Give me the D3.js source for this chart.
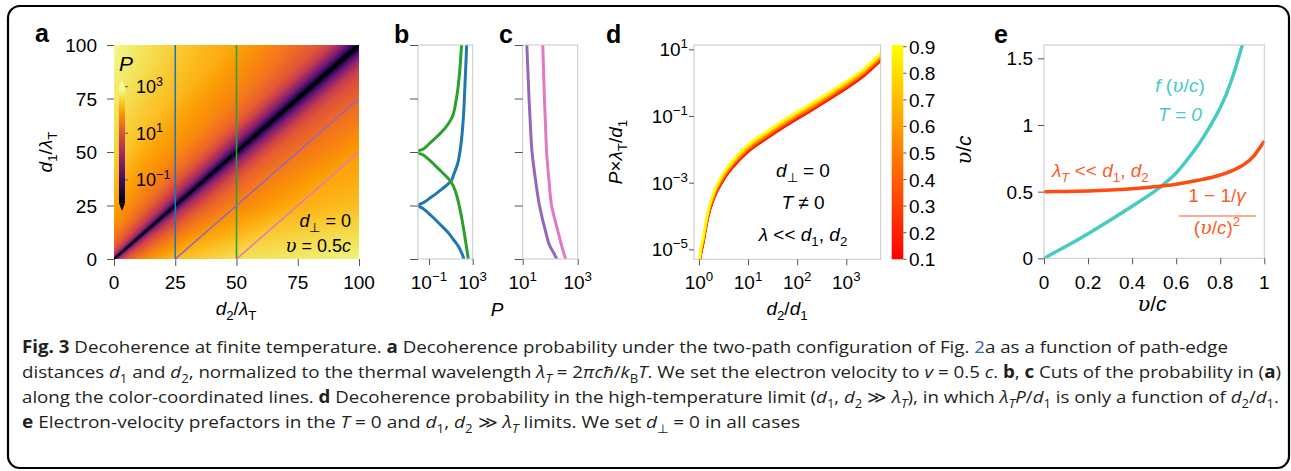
<!DOCTYPE html>
<html>
<head>
<meta charset="utf-8">
<script src="https://cdn.jsdelivr.net/npm/d3@7"></script>
<style>
  body { margin: 0; background: #fff; }
</style>
</head>
<body>
<svg id="chart" width="1291" height="471"></svg>
<script>
// ---------- data ----------
const ticksA = [0, 25, 50, 75, 100];

// heat map a: log10 P on a (s = min(d1,d2), o = |d1-d2|) grid
const heatOffsets = [0, 1, 2.5, 5, 10, 15, 25, 50, 75, 100];
const heatRows = [0, 12.5, 25, 50, 75, 100];
const logPBelow = [            // d1 < d2, row s = d1
  [-3, -0.3, 0.6, 1.1, 1.55, 1.85, 2.25, 2.6, 2.7, 2.78],
  [-3, -0.8, 0.1, 0.7, 1.2, 1.5, 1.9, 2.35, 2.5, 2.6],
  [-3, -1.2, -0.4, 0.3, 0.95, 1.3, 1.65, 2.1, 2.25, 2.35],
  [-3, -1.5, -0.8, -0.1, 0.75, 1.15, 1.45, 1.9, 2.05, 2.15],
  [-3, -1.7, -1.0, -0.3, 0.6, 1.0, 1.3, 1.8, 1.95, 2.05],
  [-3, -1.8, -1.1, -0.4, 0.5, 0.9, 1.2, 1.75, 1.9, 2.0]
];
const logPAbove = [            // d1 > d2, row s = d2
  [-3, -0.3, 0.6, 1.1, 1.5, 1.75, 2.0, 2.45, 2.7, 2.88],
  [-3, -0.8, 0.1, 0.7, 1.2, 1.5, 1.8, 2.3, 2.55, 2.7],
  [-3, -1.2, -0.4, 0.3, 1.0, 1.35, 1.75, 2.2, 2.42, 2.55],
  [-3, -1.5, -0.85, -0.1, 0.8, 1.25, 1.6, 2.0, 2.1, 2.2],
  [-3, -1.7, -1.0, -0.3, 0.6, 1.05, 1.35, 1.85, 1.95, 2.05],
  [-3, -1.8, -1.1, -0.4, 0.5, 0.95, 1.25, 1.75, 1.85, 1.95]
];
const cbTicksA = [3, 1, -1];

// cut lines drawn on a, [d2, d1] end points
const cutLines = [
  { color: "#1f77b4", pts: [[25, 0], [25, 100]] },
  { color: "#2ca02c", pts: [[50, 0], [50, 100]] },
  { color: "#9467bd", pts: [[25, 0], [100, 75]] },
  { color: "#e377c2", pts: [[50, 0], [100, 50]] }
];

// b: [d1, log10 P]
const cutBlue = [[0, 2.2], [3, 1.98], [6, 1.68], [9, 1.25], [12.4, 0.75], [15.5, 0.15], [18.7, -0.48],
  [21, -0.95], [23, -1.4], [24.3, -1.8], [24.8, -2.2], [25, -2.6], [25.2, -2.2], [25.7, -1.8],
  [27, -1.3], [28.5, -0.9], [30.3, -0.4], [32.5, 0.15], [34.4, 0.6], [36.3, 1.0], [40, 1.3],
  [43.8, 1.58], [50, 1.83], [57, 2.0], [65.5, 2.14], [81, 2.29], [100, 2.45]];
const cutGreen = [[0, 2.6], [6, 2.42], [12.2, 2.23], [18.5, 2.02], [24.8, 1.77], [31, 1.46], [36.2, 1.0],
  [39, 0.5], [42, -0.1], [45.3, -0.75], [47.5, -1.25], [49, -1.7], [49.7, -2.2], [50, -2.6],
  [50.3, -2.2], [51, -1.7], [52.5, -1.25], [54.7, -0.8], [58, -0.1], [61, 0.45], [65.6, 1.06],
  [73.4, 1.46], [81, 1.68], [90, 1.85], [100, 1.98]];
// c: [d1, log10 P]
const cutPurple = [[0, 2.24], [3, 2.12], [6, 1.99], [12.5, 1.84], [25, 1.61], [37.5, 1.46], [50, 1.34],
  [62.5, 1.28], [75, 1.23], [87.5, 1.19], [100, 1.15]];
const cutPink = [[0, 2.56], [6, 2.42], [12.5, 2.29], [25, 2.05], [37.5, 1.95], [50, 1.87],
  [62.5, 1.83], [75, 1.79], [87.5, 1.76], [100, 1.73]];

// d: log10(d2/d1) -> log10(P lambda/d1), middle of the band
const dLogX = [0.0, 0.02, 0.09, 0.19, 0.32, 0.50, 0.70, 1.0, 1.38, 1.79, 2.30, 2.84, 3.35, 3.75];
const dLogY = [-5.9, -5.32, -4.72, -3.92, -3.32, -2.82, -2.42, -1.97, -1.57, -1.17, -0.72, -0.22, 0.3, 0.84];
const velocities = [0.1, 0.2, 0.3, 0.4, 0.5, 0.6, 0.7, 0.8, 0.9];
const dShift = [-0.11, -0.08, -0.055, -0.025, 0, 0.025, 0.055, 0.08, 0.11];
const dTicksX = [0, 1, 2, 3];
const dTicksY = [1, -1, -3, -5];

// e
const eV = [0, 0.1, 0.2, 0.3, 0.4, 0.5, 0.55, 0.6, 0.65, 0.7, 0.75, 0.8, 0.85, 0.9, 0.92];
const eF = [0, 0.09, 0.185, 0.285, 0.39, 0.5, 0.565, 0.64, 0.74, 0.85, 0.98, 1.13, 1.33, 1.6, 1.73];
const eRedV = [0, 0.1, 0.2, 0.3, 0.4, 0.5, 0.6, 0.7, 0.8, 0.9, 0.95, 0.98, 1.0];
const eRed = [0.5, 0.501, 0.505, 0.512, 0.522, 0.536, 0.556, 0.585, 0.625, 0.696, 0.762, 0.83, 0.88];
const eTicksX = [0, 0.2, 0.4, 0.6, 0.8, 1];
const eTicksY = [0, 0.5, 1, 1.5];

// ---------- helpers ----------
const svg = d3.select("#chart");
const FONT = "Liberation Sans, Arial, Helvetica, sans-serif";
const SERIF = "DejaVu Serif, Liberation Serif, serif";
const TICK = "#555";
const BOX = "#c8c8c8";
const FS = 19;

function rich(sel, segs, size) {
  let shift = 0;
  segs.forEach(s => {
    const o = typeof s === "string" ? { t: s } : s;
    const target = o.sub ? 0.28 * size : o.sup ? -0.42 * size : 0;
    const ts = sel.append("tspan").text(o.t);
    if (target - shift !== 0) ts.attr("dy", target - shift);
    shift = target;
    if (o.sub || o.sup) ts.attr("font-size", size * 0.7);
    if (o.i) ts.attr("font-style", "italic");
    if (o.b) ts.attr("font-weight", "bold");
    if (o.f) ts.attr("fill", o.f);
    if (o.serif) ts.style("font-family", SERIF);
  });
}

function label(x, y, segs, opt = {}) {
  const size = opt.size || FS;
  const t = svg.append("text").attr("x", x).attr("y", y)
    .attr("font-size", size).style("font-family", opt.family || FONT)
    .attr("text-anchor", opt.anchor || "middle").attr("fill", opt.fill || "#000");
  if (opt.rotate) t.attr("transform", `rotate(${opt.rotate},${x},${y})`);
  rich(t, segs, size);
  return t;
}

const pow = e => [{ t: "10" }, { t: e < 0 ? "\u2212" + (-e) : "" + e, sup: 1 }];
const V = { t: "\u03c5", i: 1, serif: 1 };

function ticks(axis, transform) {
  const g = svg.append("g").attr("transform", transform).call(axis);
  g.select(".domain").remove();
  g.selectAll(".tick line").attr("stroke", TICK);
  g.selectAll(".tick text").remove();
}

function box(x0, y0, x1, y1) {
  svg.append("rect").attr("x", x0).attr("y", y0).attr("width", x1 - x0).attr("height", y1 - y0)
    .attr("fill", "none").attr("stroke", BOX);
}

function clip(id, x0, y0, x1, y1) {
  svg.append("clipPath").attr("id", id).append("rect")
    .attr("x", x0).attr("y", y0).attr("width", x1 - x0).attr("height", y1 - y0);
  return `url(#${id})`;
}

// ---------- frame ----------
svg.append("rect").attr("x", 8).attr("y", 6).attr("width", 1281).attr("height", 462)
  .attr("rx", 12).attr("fill", "#fff").attr("stroke", "#000").attr("stroke-width", 2.2);

// panel letters
[["a", 35, 42], ["b", 394, 43], ["c", 499, 43], ["d", 606, 43], ["e", 994, 43]].forEach(([l, x, y]) =>
  label(x, y, [l], { anchor: "start", size: 25 }).attr("font-weight", "bold"));

// ---------- panel a ----------
const xA = d3.scaleLinear([0, 100], [114, 359]);
const yA = d3.scaleLinear([0, 100], [259, 45]);
const heatColor = d3.scaleSequential(d3.interpolateInferno).domain([-2, 3]).clamp(true);
const rowsBelow = logPBelow.map(r => d3.scaleLinear().domain(heatOffsets).range(r).clamp(true));
const rowsAbove = logPAbove.map(r => d3.scaleLinear().domain(heatOffsets).range(r).clamp(true));
function heatLog(d1, d2) {
  const rows = d1 < d2 ? rowsBelow : rowsAbove;
  const s = Math.min(d1, d2), o = Math.abs(d1 - d2);
  return d3.scaleLinear().domain(heatRows).range(rows.map(f => f(o))).clamp(true)(s);
}
{
  const W = 245, H = 214;
  const cv = document.createElement("canvas");
  cv.width = W; cv.height = H;
  const ctx = cv.getContext("2d");
  const img = ctx.createImageData(W, H);
  for (let py = 0; py < H; py++) {
    for (let px = 0; px < W; px++) {
      const d2 = xA.invert(114 + px + 0.5), d1 = yA.invert(45 + py + 0.5);
      const c = d3.rgb(heatColor(heatLog(d1, d2)));
      const k = 4 * (py * W + px);
      img.data[k] = c.r; img.data[k + 1] = c.g; img.data[k + 2] = c.b; img.data[k + 3] = 255;
    }
  }
  ctx.putImageData(img, 0, 0);
  svg.append("image").attr("x", 114).attr("y", 45).attr("width", W).attr("height", H)
    .attr("preserveAspectRatio", "none").attr("href", cv.toDataURL());
}
const clipA = clip("clipA", 114, 45, 359, 259);
svg.append("g").attr("clip-path", clipA).selectAll("path").data(cutLines).join("path")
  .attr("d", d => d3.line().x(p => xA(p[0])).y(p => yA(p[1]))(d.pts))
  .attr("stroke", d => d.color).attr("stroke-width", 1.6).attr("fill", "none");

ticks(d3.axisLeft(yA).tickValues(ticksA).tickSize(7), "translate(114,0)");
ticks(d3.axisBottom(xA).tickValues(ticksA).tickSize(7), "translate(0,259)");
ticksA.forEach(v => {
  label(97, yA(v) + 7, [String(v)], { anchor: "end" });
  label(xA(v), 289, [String(v)]);
});
label(52, 152, [{ t: "d", i: 1 }, { t: "1", sub: 1 }, "/", { t: "\u03bb", i: 1 }, { t: "T", sub: 1 }], { rotate: -90 });
label(236, 315, [{ t: "d", i: 1 }, { t: "2", sub: 1 }, "/", { t: "\u03bb", i: 1 }, { t: "T", sub: 1 }]);

// colorbar of a
{
  const yCb = d3.scaleLinear([-2, 3], [203.2, 86.7]);
  const grad = svg.append("defs").append("linearGradient").attr("id", "gInf")
    .attr("x1", 0).attr("y1", 1).attr("x2", 0).attr("y2", 0);
  d3.range(0, 1.001, 0.05).forEach(t => grad.append("stop").attr("offset", t).attr("stop-color", d3.interpolateInferno(t)));
  svg.append("rect").attr("x", 119).attr("y", yCb(3)).attr("width", 6).attr("height", yCb(-2) - yCb(3))
    .attr("fill", "url(#gInf)");
  svg.append("path").attr("d", `M119,${yCb(3)}L125,${yCb(3)}L122,80.5Z`).attr("fill", d3.interpolateInferno(1));
  svg.append("path").attr("d", `M119,${yCb(-2)}L125,${yCb(-2)}L122,211Z`).attr("fill", d3.interpolateInferno(0));
  cbTicksA.forEach(e => {
    svg.append("line").attr("x1", 125).attr("x2", 128).attr("y1", yCb(e)).attr("y2", yCb(e)).attr("stroke", TICK);
    label(136, yCb(e) + 6.5, pow(e), { anchor: "start", size: 18 });
  });
  label(119, 71, [{ t: "P", i: 1 }], { anchor: "start", size: 21 });
}
label(351, 227, [{ t: "d", i: 1 }, { t: "\u22a5", sub: 1 }, " = 0"], { anchor: "end", size: 18 });
label(351, 252, [V, " = 0.5", { t: "c", i: 1 }], { anchor: "end", size: 18 });

// ---------- panels b, c ----------
const xB = d3.scaleLog([1e-2, 1e3], [418, 472.7]);
const xC = d3.scaleLog([10, 1000], [522.7, 577.7]);
const cutLine = xs => d3.line().x(p => xs(10 ** p[1])).y(p => yA(p[0])).curve(d3.curveMonotoneY);
const clipB = clip("clipB", 418, 45, 472.7, 259);
const clipC = clip("clipC", 522.7, 45, 577.7, 259);
[[cutBlue, "#1f77b4"], [cutGreen, "#2ca02c"]].forEach(([d, c]) =>
  svg.append("path").attr("clip-path", clipB).attr("d", cutLine(xB)(d))
    .attr("stroke", c).attr("stroke-width", 3).attr("fill", "none"));
[[cutPurple, "#9467bd"], [cutPink, "#e377c2"]].forEach(([d, c]) =>
  svg.append("path").attr("clip-path", clipC).attr("d", cutLine(xC)(d))
    .attr("stroke", c).attr("stroke-width", 3).attr("fill", "none"));
box(418, 45, 472.7, 259);
box(522.7, 45, 577.7, 259);
ticks(d3.axisLeft(yA).tickValues(ticksA).tickSize(8), "translate(418,0)");
ticks(d3.axisLeft(yA).tickValues(ticksA).tickSize(8), "translate(522.7,0)");
ticks(d3.axisBottom(xB).tickValues([1e-1, 1e3]).tickSize(6), "translate(0,259)");
ticks(d3.axisBottom(xC).tickValues([1e1, 1e3]).tickSize(6), "translate(0,259)");
label(xB(1e-1), 289, pow(-1));
label(xB(1e3), 289, pow(3));
label(xC(1e1), 289, pow(1));
label(xC(1e3), 289, pow(3));
label(497, 316, [{ t: "P", i: 1 }]);

// ---------- panel d ----------
const xD = d3.scaleLog([10 ** -0.1, 10 ** 3.7], [694, 880.7]);
const yD = d3.scaleLog([10 ** -5.3, 10 ** 1.13], [259.3, 45]);
const vColor = d3.scaleLinear([0.1, 0.9], ["#ff0000", "#ffff00"]);
const clipD = clip("clipD", 694, 45, 880.7, 259.3);
const dLine = d3.line().x(i => xD(10 ** dLogX[i])).curve(d3.curveMonotoneX);
svg.append("g").attr("clip-path", clipD).selectAll("path").data(velocities).join("path")
  .attr("d", (v, k) => dLine.y(i => yD(10 ** (dLogY[i] + dShift[k])))(d3.range(dLogX.length)))
  .attr("stroke", v => vColor(v)).attr("stroke-width", 2.2).attr("fill", "none");
box(694, 45, 880.7, 259.3);
ticks(d3.axisBottom(xD).tickValues(dTicksX.map(e => 10 ** e)).tickSize(6), "translate(0,259.3)");
ticks(d3.axisLeft(yD).tickValues(dTicksY.map(e => 10 ** e)).tickSize(5), "translate(694,0)");
dTicksX.forEach(e => label(xD(10 ** e), 289, pow(e)));
dTicksY.forEach(e => label(688, yD(10 ** e) + 7, pow(e), { anchor: "end" }));
label(622, 152, [{ t: "P", i: 1 }, "\u00d7", { t: "\u03bb", i: 1 }, { t: "T", sub: 1 }, "/", { t: "d", i: 1 }, { t: "1", sub: 1 }], { rotate: -90 });
label(787, 315, [{ t: "d", i: 1 }, { t: "2", sub: 1 }, "/", { t: "d", i: 1 }, { t: "1", sub: 1 }]);
label(803, 177, [{ t: "d", i: 1 }, { t: "\u22a5", sub: 1 }, " = 0"]);
label(803, 209, [{ t: "T", i: 1 }, " \u2260 0"]);
label(803, 241, [{ t: "\u03bb", i: 1 }, " << ", { t: "d", i: 1 }, { t: "1", sub: 1 }, ", ", { t: "d", i: 1 }, { t: "2", sub: 1 }]);

// colorbar of d
{
  const yV = d3.scaleLinear([0.1, 0.9], [259.3, 46.7]);
  const grad = svg.append("defs").append("linearGradient").attr("id", "gAut")
    .attr("x1", 0).attr("y1", 1).attr("x2", 0).attr("y2", 0);
  grad.append("stop").attr("offset", 0).attr("stop-color", vColor(0.1));
  grad.append("stop").attr("offset", 1).attr("stop-color", vColor(0.9));
  svg.append("rect").attr("x", 891.7).attr("y", 45).attr("width", 11.6).attr("height", 214.3).attr("fill", "url(#gAut)");
  velocities.forEach(v => {
    svg.append("line").attr("x1", 903.3).attr("x2", 906.5).attr("y1", yV(v)).attr("y2", yV(v)).attr("stroke", TICK);
    label(909, yV(v) + 7, [v.toFixed(1)], { anchor: "start" });
  });
  label(971, 150, [V, "/", { t: "c", i: 1 }], { rotate: -90, size: 21 });
}

// ---------- panel e ----------
const xE = d3.scaleLinear([0, 1], [1044, 1264.3]);
const yE = d3.scaleLinear([0, 1.6], [258.3, 45]);
const clipE = clip("clipE", 1044, 45, 1264.3, 258.3);
svg.append("path").attr("clip-path", clipE)
  .attr("d", d3.line().x(i => xE(eV[i])).y(i => yE(eF[i])).curve(d3.curveNatural)(d3.range(eV.length)))
  .attr("stroke", "#45cbc3").attr("stroke-width", 3.5).attr("fill", "none");
svg.append("path")
  .attr("d", d3.line().x(i => xE(eRedV[i])).y(i => yE(eRed[i])).curve(d3.curveMonotoneX)(d3.range(eRedV.length)))
  .attr("stroke", "#ff4a14").attr("stroke-width", 3.5).attr("fill", "none");
box(1044, 45, 1264.3, 258.3);
ticks(d3.axisBottom(xE).tickValues(eTicksX).tickSize(6), "translate(0,258.3)");
ticks(d3.axisLeft(yE).tickValues(eTicksY).tickSize(6), "translate(1044,0)");
eTicksX.forEach(v => label(xE(v), 289, [String(v)]));
eTicksY.forEach(v => label(1033, yE(v) + 7, [String(v)], { anchor: "end" }));
label(1152, 311, [V, "/", { t: "c", i: 1 }], { size: 21 });
const CY = "#45cbc3", OR = "#ff5a24";
label(1180, 92, [{ t: "f", i: 1 }, " (", V, "/", { t: "c", i: 1 }, ")"], { fill: CY });
label(1180, 121, [{ t: "T", i: 1 }, { t: " = 0", i: 1 }], { fill: CY });
label(1052, 177, [{ t: "\u03bb", i: 1 }, { t: "T", sub: 1, i: 1 }, " << ", { t: "d", i: 1 }, { t: "1", sub: 1 }, ", ", { t: "d", i: 1 }, { t: "2", sub: 1 }], { anchor: "start", fill: OR });
label(1217, 202, ["1 \u2212 1/", { t: "\u03b3", i: 1 }], { fill: OR });
svg.append("line").attr("x1", 1179).attr("x2", 1256).attr("y1", 216).attr("y2", 216).attr("stroke", OR).attr("stroke-width", 1.2);
label(1217, 234, ["(", V, "/", { t: "c", i: 1 }, ")", { t: "2", sup: 1 }], { fill: OR });

// ---------- caption ----------
const B = t => ({ t, b: 1 }), I = t => ({ t, i: 1 }), S = t => ({ t, sub: 1 }), ST = { t: "T", sub: 1, i: 1 };
const captionLines = [
  [B("Fig. 3"), " Decoherence at finite temperature. ", B("a"), " Decoherence probability under the two-path configuration of Fig. ", { t: "2", f: "#2f62c0" }, "a as a function of path-edge"],
  ["distances ", I("d"), S("1"), " and ", I("d"), S("2"), ", normalized to the thermal wavelength ", I("\u03bb"), ST, " = 2", I("\u03c0c\u0127"), "/", I("k"), S("B"), I("T"), ". We set the electron velocity to ", I("v"), " = 0.5 ", I("c"), ". ", B("b"), ", ", B("c"), " Cuts of the probability in (", B("a"), ")"],
  ["along the color-coordinated lines. ", B("d"), " Decoherence probability in the high-temperature limit (", I("d"), S("1"), ", ", I("d"), S("2"), " \u226b ", I("\u03bb"), ST, "), in which ", I("\u03bb"), ST, I("P"), "/", I("d"), S("1"), " is only a function of ", I("d"), S("2"), "/", I("d"), S("1"), "."],
  [B("e"), " Electron-velocity prefactors in the ", I("T"), " = 0 and ", I("d"), S("1"), ", ", I("d"), S("2"), " \u226b ", I("\u03bb"), ST, " limits. We set ", I("d"), S("\u22a5"), " = 0 in all cases"]
];
const captionY = [353, 378, 403, 428];
const captionLen = [1206, 1259, 1257, 778];
captionLines.forEach((segs, k) => {
  label(22, captionY[k], segs, { anchor: "start", size: 17, family: "Open Sans, Noto Sans, sans-serif", fill: "#231f20" })
    .attr("textLength", captionLen[k]).attr("lengthAdjust", "spacingAndGlyphs");
});
</script>
</body>
</html>
